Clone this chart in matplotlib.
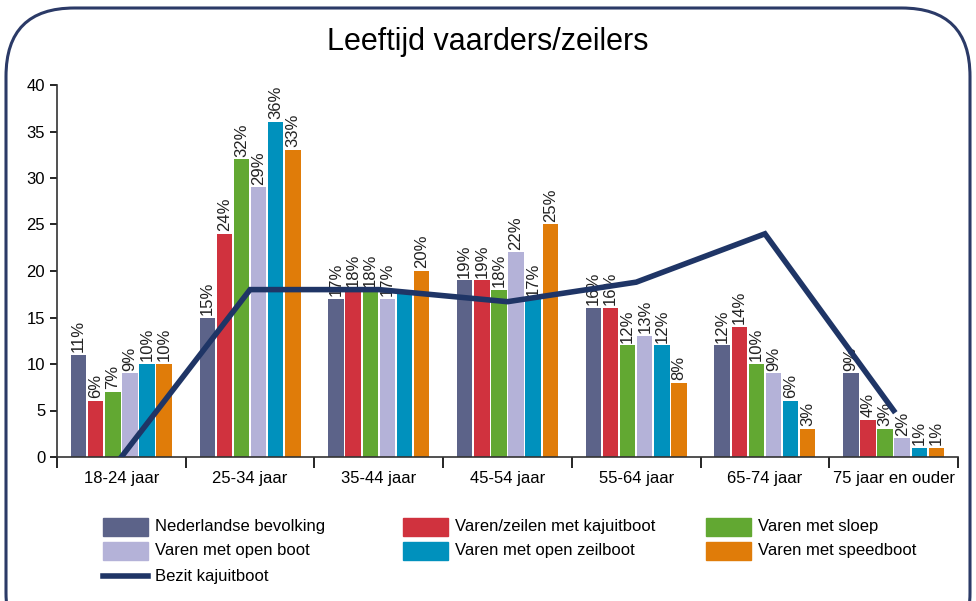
import matplotlib
matplotlib.use("Agg")
import matplotlib.pyplot as plt
import numpy as np
from matplotlib.patches import FancyBboxPatch, Rectangle
from matplotlib.lines import Line2D

plt.rcParams['font.family'] = ["Liberation Sans", "DejaVu Sans"]

categories = ["18-24 jaar", "25-34 jaar", "35-44 jaar", "45-54 jaar", "55-64 jaar", "65-74 jaar", "75 jaar en ouder"]
series_names = ["Nederlandse bevolking", "Varen/zeilen met kajuitboot", "Varen met sloep",
                "Varen met open boot", "Varen met open zeilboot", "Varen met speedboot"]
nederlandse = [11, 15, 17, 19, 16, 12, 9]
kajuitboot = [6, 24, 18, 19, 16, 14, 4]
sloep = [7, 32, 18, 18, 12, 10, 3]
open_boot = [9, 29, 17, 22, 13, 9, 2]
open_zeilboot = [10, 36, 18, 17, 12, 6, 1]
speedboot = [10, 33, 20, 25, 8, 3, 1]
bezit_kajuitboot = [0, 18, 18, 16.7, 18.8, 24, 5]
line_name = "Bezit kajuitboot"
colors = ["#5c6389", "#d0323e", "#62a832", "#b4b2d8", "#0091bd", "#e07c09"]
line_color = "#1f3566"
yticks = [0, 5, 10, 15, 20, 25, 30, 35, 40]

series = [nederlandse, kajuitboot, sloep, open_boot, open_zeilboot, speedboot]

fig = plt.figure(figsize=(9.76, 6.01), dpi=100)
W, H = 976, 601
ax = fig.add_axes([57 / W, 1 - 457 / H, (958 - 57) / W, (457 - 85) / H])

x = np.arange(len(categories))
bw = 0.133
for i, (vals, c) in enumerate(zip(series, colors)):
    pos = x + (i - 2.5) * bw
    ax.bar(pos, vals, width=bw * 0.9, color=c, zorder=2)
    for j, (p, v) in enumerate(zip(pos, vals)):
        if i == 4 and j == 2:
            continue
        ax.text(p, v + 0.3, f"{v}%", rotation=90, ha="center", va="bottom",
                fontsize=12, color="#222222", zorder=1)

ax.plot(x, bezit_kajuitboot, color=line_color, lw=4, zorder=3, solid_joinstyle="miter")

ax.set_xlim(-0.5, len(categories) - 0.5)
ax.set_ylim(0, 40)
ax.set_yticks(yticks)
ax.set_yticklabels([str(t) for t in yticks], fontsize=12)
ax.set_xticks(np.arange(len(categories) + 1) - 0.5)
ax.set_xticklabels([])
ax.set_xticks(x, minor=True)
ax.set_xticklabels(categories, minor=True, fontsize=12)
ax.tick_params(axis="x", which="minor", length=0, pad=10)
ax.tick_params(axis="x", which="major", length=8, width=1.2, direction="out")
ax.tick_params(axis="y", length=5, width=1.2, direction="out")
for s in ["top", "right"]:
    ax.spines[s].set_visible(False)
for s in ["left", "bottom"]:
    ax.spines[s].set_linewidth(1.2)
    ax.spines[s].set_color("#333333")

fig.text(0.5, 1 - 42 / H, "Leeftijd vaarders/zeilers", ha="center", va="center", fontsize=22)

# legend (row-major, 3 columns)
col_x = [103, 403, 706]
row_y = [527, 551, 576]
items = [(series_names[k], colors[k], "patch") for k in range(6)] + [(line_name, line_color, "line")]
for k, (name, c, kind) in enumerate(items):
    cx = col_x[k % 3]
    cy = row_y[k // 3]
    if kind == "patch":
        fig.add_artist(Rectangle((cx / W, 1 - (cy + 9) / H), 45 / W, 18 / H,
                                 transform=fig.transFigure, color=c))
    else:
        fig.add_artist(Line2D([cx / W, (cx + 45) / W], [1 - cy / H, 1 - cy / H],
                              transform=fig.transFigure, color=c, lw=4))
    fig.text((cx + 52) / W, 1 - cy / H, name, ha="left", va="center", fontsize=12)

border = FancyBboxPatch((6 / W, -0.1), (964 / W), 1 - 8 / H + 0.1,
                        boxstyle="round,pad=0,rounding_size=0.07",
                        transform=fig.transFigure, fill=False, ec="#2b3a67", lw=2.2, zorder=10,
                        mutation_aspect=W / H)
fig.patches.append(border)

fig.savefig("out.png", dpi=100)
